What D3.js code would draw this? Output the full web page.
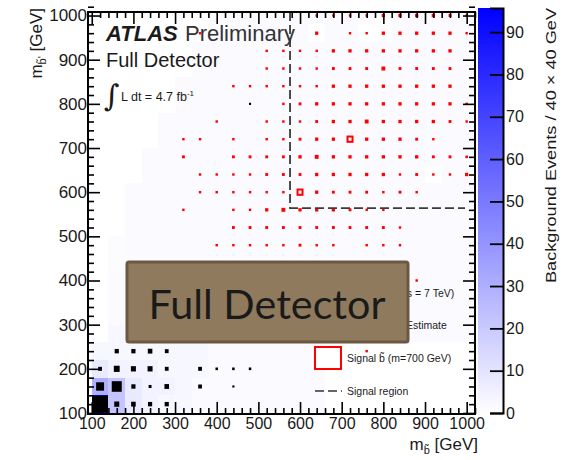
<!DOCTYPE html>
<html>
<head>
<meta charset="utf-8">
<script src="https://cdn.jsdelivr.net/npm/d3@7"></script>
<style>
  body { margin: 0; background: #fff; }
  svg text { font-family: "Liberation Sans", Arial, sans-serif; fill: #1a1a1a; }
</style>
</head>
<body>
<div id="vis"></div>
<script>
( function() {
    var width = 562,
        height = 460;

    // 40 GeV bins, centres in GeV (same for both axes)
    var binCentres = [120, 160, 200, 240, 280, 320, 360, 400, 440, 480, 520, 560,
                      600, 640, 680, 720, 760, 800, 840, 880, 920, 960, 1000];

    // background estimate (colour map), one string per row, top row = 1000 GeV
    // each digit is an index into bgLevels
    var bgLevels = [0, 1.2, 2, 3, 4.5, 8, 14, 22, 30, 95];
    var bgRows = [
        "00000002222222222022222",  // 1000
        "00000002222220220022222",  // 960
        "00000022222222222222222",  // 920
        "00000022222222222222222",  // 880
        "00000222222222222222222",  // 840
        "00000222222222222222222",  // 800
        "00002222222222222222222",  // 760
        "00002222222222222222222",  // 720
        "00022222222222222222222",  // 680
        "00022222222222222222022",  // 640
        "00222222222222222222222",  // 600
        "00222222222222222222222",  // 560
        "00222222222222222222222",  // 520
        "01222222222222222222222",  // 480
        "01222222222222222222222",  // 440
        "02222222222222222222222",  // 400
        "02222222222222222222222",  // 360
        "02222222222222222222222",  // 320
        "03333322222222222222222",  // 280
        "33333332222222000000000",  // 240
        "54443332222222000000000",  // 200
        "87544322222222000000000",  // 160
        "97543322222222000000000"   // 120
    ];

    // data (black boxes): [m_b, m_b', events]
    var dataBoxes = [
        [160, 240, 10], [200, 240, 10], [240, 240, 11], [280, 240, 9],
        [120, 200, 9], [160, 200, 14], [200, 200, 12], [240, 200, 12], [280, 200, 9],
        [360, 200, 9], [400, 200, 6], [440, 200, 6], [480, 200, 6],
        [120, 160, 19], [160, 160, 24], [200, 160, 10], [240, 160, 7], [280, 160, 11],
        [360, 160, 9], [440, 160, 5],
        [120, 120, 38], [160, 120, 12], [200, 120, 11], [240, 120, 10], [280, 120, 10],
        [480, 800, 5]
    ];
    var dataMax = 40;

    // signal (red open boxes), columns m_b = 320..1000
    var sigCols = [320, 360, 400, 440, 480, 520, 560, 600, 640, 680, 720, 760, 800, 840, 880, 920, 960, 1000];
    var sigRowMass = [1000, 960, 920, 880, 840, 800, 760, 720, 680, 640, 600, 560, 520, 480, 400, 240];
    var sigValues = [
        [0, 0, 0, 0, 0, 0, 0, 0, .5, .5, .5, .5, 1.5, 1.5, 1.5, 1.5, 1, .5],
        [0, .5, 0, 0, 0, 0, 0, 0, 1.5, 0, .5, .5, 1.5, 1.5, 1.5, 1.5, 1.5, .5],
        [0, 0, 0, 0, 0, .5, .5, .5, .5, 1.5, 1.5, 1.5, 1.5, 1.5, 1.5, 1.5, 1.5, 0],
        [0, 0, 0, 0, 0, .5, .5, .5, .5, 1, 1, 1, 2.2, 1, 1, 1, 1, 0],
        [0, 0, 0, .5, .5, .5, .5, .5, .5, 1.5, 1.5, 1.5, 1.5, 1.5, 1.5, 1.5, 1.5, 0],
        [0, 0, 0, 0, 0, 0, .5, 1, 1.5, 1.5, 1.5, 1.5, 1.5, 1.5, 1.5, 1.5, 1.5, .5],
        [0, 0, .5, 0, 0, .5, .5, .5, 1, 1.5, 1.5, 2.2, 1.5, 1.5, 1.5, 1.5, 1, .5],
        [.5, .5, 0, .5, 0, .5, .5, 1, 1.5, 1.5, 6, 1.5, 1.5, 1.5, 1, .5, 0, 0],
        [1, 0, 0, 1, 1, 1, 1, 1.5, 2.2, 1.5, 1.5, 1.5, 1.5, 1.5, 1.5, 1, 1, .7],
        [0, .5, .5, .5, .5, 1, 1, 1, 1.5, 1.5, 1.5, 1.5, 1.5, .5, 1, .5, .5, 1.5],
        [0, .5, .5, .5, .5, .5, .5, 6, 1.5, 1, 1, 1, .5, 1, .5, 0, 0, 0],
        [.5, 0, 0, .5, .5, 1.5, 2.2, 1.5, 1.5, 1.5, 1, .5, .5, 0, 0, 0, 0, 0],
        [0, 0, 0, 1, 1, 1, 1, 1, 1, 1, 1, 1, 1, .5, 0, 0, 0, 0],
        [0, 0, .5, .5, .5, .5, .5, 1, .5, .5, 0, .5, .5, .5, 0, 0, 0, 0],
        [0, 0, 0, 0, 0, 0, 0, 0, 0, 0, 0, 0, 0, 0, .5, 0, 0, 0],
        [0, 0, 0, 0, 0, 0, 0, 0, 0, 0, 0, .5, 0, 0, 0, 0, 0, 0]
    ];
    var sigMax = 20;

    var signalRegion = {mb: 576, mbp: 564, end: 996};
    var axisTicks = [100, 200, 300, 400, 500, 600, 700, 800, 900, 1000];
    var zTicks = [0, 10, 20, 30, 40, 50, 60, 70, 80, 90];
    var zMax = 95.7;

    var legendRows = [
        "Data 2011 (\u221As = 7 TeV)",
        "Background Estimate",
        "Signal b\u0303 (m=700 GeV)",
        "Signal region"
    ];

    var frame = {left: 88, right: 475, top: 12, bottom: 414};

    var svg = d3.select("#vis")
        .append("svg")
        .attr("width", width)
        .attr("height", height);

    var x = d3.scaleLinear().domain([91, 1020]).range([frame.left, frame.right]);
    var y = d3.scaleLinear().domain([97.7, 1008]).range([frame.bottom, frame.top]);
    var z = d3.scaleLinear().domain([0, zMax]).range([413, 8]);
    var colour = d3.scaleLinear().domain([0, zMax]).range(["#ffffff", "#0000ff"]);

    svg.append("clipPath").attr("id", "plotclip")
        .append("rect")
        .attr("x", frame.left).attr("y", frame.top)
        .attr("width", frame.right - frame.left)
        .attr("height", frame.bottom - frame.top);

    var plot = svg.append("g").attr("clip-path", "url(#plotclip)");

    // background colour map
    var cells = [];
    bgRows.forEach(function(row, i) {
        var m2 = binCentres[binCentres.length - 1 - i];
        row.split("").forEach(function(ch, j) {
            var v = bgLevels[+ch];
            if (v > 0) cells.push({mb: binCentres[j], mbp: m2, v: v});
        });
    });

    plot.selectAll(".cell")
        .data(cells)
        .enter().append("rect")
        .attr("class", "cell")
        .attr("x", function(d) { return x(d.mb - 20); })
        .attr("y", function(d) { return y(d.mbp + 20); })
        .attr("width", function(d) { return x(d.mb + 20) - x(d.mb - 20); })
        .attr("height", function(d) { return y(d.mbp - 20) - y(d.mbp + 20); })
        .attr("fill", function(d) { return colour(d.v); })
        .attr("shape-rendering", "crispEdges");

    // data boxes
    function boxW(m, frac) { return (x(m + 20) - x(m - 20)) * frac; }
    function boxH(m, frac) { return (y(m - 20) - y(m + 20)) * frac; }

    plot.selectAll(".data")
        .data(dataBoxes)
        .enter().append("rect")
        .attr("class", "data")
        .attr("x", function(d) { return x(d[0]) - boxW(d[0], d[2] / dataMax) / 2; })
        .attr("y", function(d) { return y(d[1]) - boxH(d[1], d[2] / dataMax) / 2; })
        .attr("width", function(d) { return boxW(d[0], d[2] / dataMax); })
        .attr("height", function(d) { return boxH(d[1], d[2] / dataMax); })
        .attr("fill", "#000");

    // signal boxes
    var sig = [];
    sigValues.forEach(function(row, i) {
        row.forEach(function(v, j) {
            if (v > 0) sig.push({mb: sigCols[j], mbp: sigRowMass[i], v: v});
        });
    });

    plot.selectAll(".sig")
        .data(sig)
        .enter().append("rect")
        .attr("class", "sig")
        .attr("x", function(d) { return x(d.mb) - boxW(d.mb, d.v / sigMax) / 2; })
        .attr("y", function(d) { return y(d.mbp) - boxH(d.mbp, d.v / sigMax) / 2; })
        .attr("width", function(d) { return boxW(d.mb, d.v / sigMax); })
        .attr("height", function(d) { return boxH(d.mbp, d.v / sigMax); })
        .attr("fill", "none")
        .attr("stroke", "#ff0000")
        .attr("stroke-width", 2);

    // signal region
    plot.append("path")
        .attr("d", "M" + x(signalRegion.mb) + "," + frame.top +
                   "V" + y(signalRegion.mbp) +
                   "H" + x(signalRegion.end))
        .attr("fill", "none")
        .attr("stroke", "#3a3a3a")
        .attr("stroke-width", 1.8)
        .attr("stroke-dasharray", "9,4");

    // axes
    var minor = d3.range(100, 1021, 20).filter(function(v) { return v % 100 !== 0; });
    var fmt = d3.format("d");

    function styleAxis(g) {
        g.select(".domain").remove();
        g.selectAll("line").attr("stroke", "#000").attr("stroke-width", 1.6);
        g.selectAll("text").attr("fill", "#1a1a1a");
    }

    var gx = svg.append("g").attr("transform", "translate(0," + frame.bottom + ")")
        .call(d3.axisBottom(x).tickValues(axisTicks).tickFormat(fmt).tickSize(-12).tickPadding(4))
        .call(styleAxis);
    gx.selectAll("text").style("font-size", "16px");
    svg.append("g").attr("transform", "translate(0," + frame.bottom + ")")
        .call(d3.axisBottom(x).tickValues(minor).tickSize(-6).tickFormat(""))
        .call(styleAxis);

    svg.append("g").attr("transform", "translate(0," + frame.top + ")")
        .call(d3.axisTop(x).tickValues(axisTicks).tickSize(-12).tickFormat(""))
        .call(styleAxis);
    svg.append("g").attr("transform", "translate(0," + frame.top + ")")
        .call(d3.axisTop(x).tickValues(minor).tickSize(-6).tickFormat(""))
        .call(styleAxis);

    var gy = svg.append("g").attr("transform", "translate(" + frame.left + ",0)")
        .call(d3.axisLeft(y).tickValues(axisTicks).tickFormat(fmt).tickSize(-12).tickPadding(1))
        .call(styleAxis);
    gy.selectAll("text").style("font-size", "17px");
    svg.append("g").attr("transform", "translate(" + frame.left + ",0)")
        .call(d3.axisLeft(y).tickValues(minor).tickSize(-6).tickFormat(""))
        .call(styleAxis);

    svg.append("g").attr("transform", "translate(" + frame.right + ",0)")
        .call(d3.axisRight(y).tickValues(axisTicks).tickSize(-12).tickFormat(""))
        .call(styleAxis);
    svg.append("g").attr("transform", "translate(" + frame.right + ",0)")
        .call(d3.axisRight(y).tickValues(minor).tickSize(-6).tickFormat(""))
        .call(styleAxis);

    svg.append("rect")
        .attr("x", frame.left).attr("y", frame.top)
        .attr("width", frame.right - frame.left)
        .attr("height", frame.bottom - frame.top)
        .attr("fill", "none")
        .attr("stroke", "#000")
        .attr("stroke-width", 2);

    // colour bar
    var grad = svg.append("defs").append("linearGradient")
        .attr("id", "zgrad")
        .attr("x1", 0).attr("y1", 1).attr("x2", 0).attr("y2", 0);
    grad.append("stop").attr("offset", 0).attr("stop-color", colour(0));
    grad.append("stop").attr("offset", 1).attr("stop-color", colour(zMax));

    svg.append("rect")
        .attr("x", 478).attr("y", z(zMax))
        .attr("width", 25).attr("height", z(0) - z(zMax) + 1)
        .attr("fill", "url(#zgrad)");

    var gz = svg.append("g").attr("transform", "translate(503,0)")
        .call(d3.axisRight(z).tickValues(zTicks).tickSize(-13).tickPadding(3));
    gz.select(".domain").attr("stroke", "#000").attr("stroke-width", 2);
    gz.selectAll("line").attr("stroke", "#000").attr("stroke-width", 1.8);
    gz.selectAll("text").style("font-size", "16px").attr("fill", "#1a1a1a");

    svg.append("text")
        .attr("transform", "translate(556,8) rotate(-90)")
        .attr("text-anchor", "end")
        .attr("textLength", 275)
        .attr("lengthAdjust", "spacingAndGlyphs")
        .style("font-size", "15px")
        .attr("fill", "#666")
        .text("Background Events / 40 \u00d7 40 GeV");

    // axis titles
    var yt = svg.append("text")
        .attr("transform", "translate(42,8) rotate(-90)")
        .attr("text-anchor", "end")
        .style("font-size", "17px")
        .attr("fill", "#555");
    yt.append("tspan").text("m");
    yt.append("tspan").attr("dy", 4).style("font-size", "11px").text("b\u0303'");
    yt.append("tspan").attr("dy", -4).text(" [GeV]");

    var xt = svg.append("text")
        .attr("x", 478).attr("y", 450)
        .attr("text-anchor", "end")
        .style("font-size", "17px")
        .attr("fill", "#333");
    xt.append("tspan").text("m");
    xt.append("tspan").attr("dy", 4).style("font-size", "11px").text("b\u0303");
    xt.append("tspan").attr("dy", -4).text(" [GeV]");

    // labels
    var atlas = svg.append("text").attr("x", 106).attr("y", 41).style("font-size", "22px");
    atlas.append("tspan").style("font-weight", "bold").style("font-style", "italic").text("ATLAS");
    atlas.append("tspan").attr("x", 185).attr("fill", "#333").text("Preliminary");

    svg.append("text").attr("x", 106).attr("y", 67)
        .style("font-size", "20px").attr("fill", "#444")
        .text("Full Detector");

    svg.append("text").attr("x", 104).attr("y", 106)
        .style("font-size", "30px").style("font-family", "DejaVu Serif")
        .text("\u222B");
    var lumi = svg.append("text").attr("x", 121).attr("y", 101).style("font-size", "12.5px");
    lumi.append("tspan").text("L dt = 4.7 fb");
    lumi.append("tspan").attr("dy", -5).style("font-size", "8px").text("-1");

    // legend (partly hidden behind the overlay box, as in the original)
    var legY = [293, 325, 358, 391];
    legendRows.forEach(function(t, i) {
        svg.append("text")
            .attr("x", 347).attr("y", legY[i])
            .attr("dominant-baseline", "central")
            .style("font-size", "10.5px")
            .attr("fill", "#333")
            .text(t);
    });
    svg.append("rect")
        .attr("x", 315).attr("y", 347).attr("width", 26).attr("height", 22)
        .attr("fill", "#fff").attr("stroke", "#ff0000").attr("stroke-width", 2);
    svg.append("line")
        .attr("x1", 315).attr("x2", 342).attr("y1", legY[3]).attr("y2", legY[3])
        .attr("stroke", "#333").attr("stroke-width", 1.6)
        .attr("stroke-dasharray", "9,4");

    // overlay box
    svg.append("rect")
        .attr("x", 127).attr("y", 262).attr("width", 281).attr("height", 80)
        .attr("rx", 2)
        .attr("fill", "#8F7A5D")
        .attr("stroke", "#6B5842")
        .attr("stroke-width", 3);
    svg.append("text")
        .attr("x", 267).attr("y", 319)
        .attr("text-anchor", "middle")
        .attr("textLength", 237)
        .attr("lengthAdjust", "spacingAndGlyphs")
        .style("font-family", "Lato, 'Open Sans', sans-serif")
        .style("font-size", "40px")
        .attr("fill", "#fff")
        .text("Full Detector");
}) ();
</script>
</body>
</html>
